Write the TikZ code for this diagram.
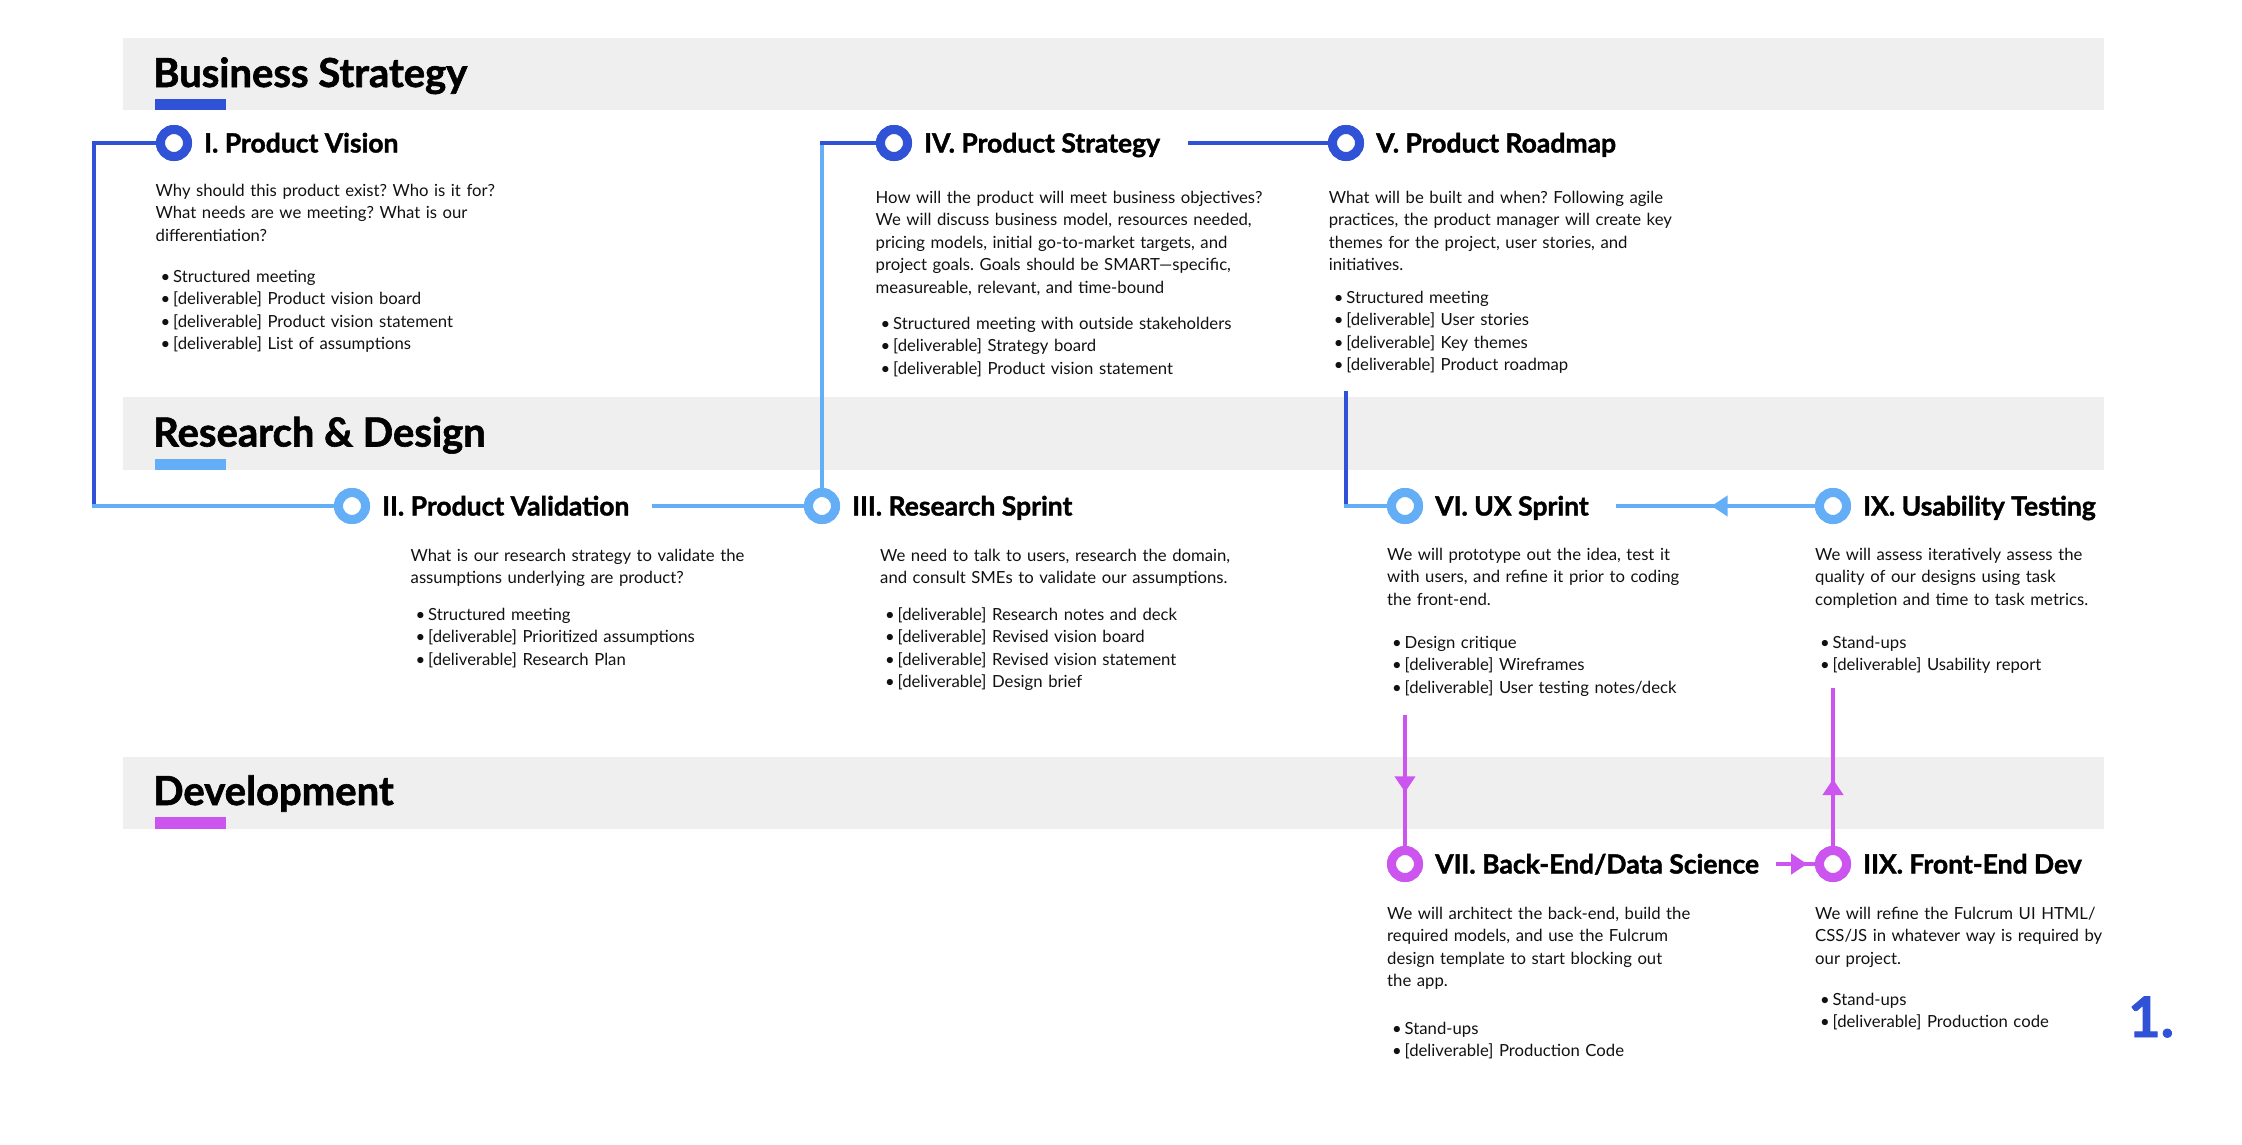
\documentclass[tikz,border=0pt]{standalone}
\usepackage{fontspec}
\setmainfont{Lato}
\newfontfamily\headfont{Lato}[BoldFeatures={FakeBold=1.5}]
\usetikzlibrary{arrows.meta,decorations.markings}
\definecolor{dblue}{HTML}{3052D6}
\definecolor{lblue}{HTML}{63AEF6}
\definecolor{mag}{HTML}{CC55F0}
\definecolor{bandgray}{HTML}{EFEFEF}
\definecolor{txt}{HTML}{111111}
\newcommand\bul[1]{\makebox[17.5pt][l]{\hspace{5pt}•}#1}
\frenchspacing
\begin{document}
\begin{tikzpicture}[x=1pt,y=-1pt,
  ring/.style={circle,draw=#1,line width=9pt,fill=white,minimum size=27pt,inner sep=0pt,outer sep=4.5pt},
  ttl/.style={anchor=base west,inner sep=0pt,font=\fontsize{26.5}{30}\headfont\bfseries,text=black},
  sect/.style={anchor=base west,inner sep=0pt,font=\fontsize{40}{44}\headfont\bfseries,text=black},
  body/.style={anchor=base west,inner sep=0pt,text width=600pt,align=left,font=\fontsize{16.7}{22.6}\selectfont\frenchspacing,text=txt},
  conn/.style={line width=4pt},
  cornerconn/.style={line width=4pt,line cap=rect},
  midarrow/.style={postaction={decorate},decoration={markings,mark=at position #1 with {\arrow{Triangle[length=16pt,width=20pt]}}}}
]
\useasboundingbox (0,0) rectangle (2242,1144);
% bands
\fill[bandgray] (123,38) rectangle (2104,110);
\fill[bandgray] (123,397) rectangle (2104,470);
\fill[bandgray] (123,757) rectangle (2104,829);
\fill[dblue] (155,99) rectangle (226,110);
\fill[lblue] (155,459) rectangle (226,470);
\fill[mag] (155,817) rectangle (226,829);
\node[sect] (bs) at (153,87) {Business Strategy};
\node[sect] (rd) at (153,446.5) {Research \& Design};
\node[sect] (dev) at (153,805) {Development};

% coordinates
\coordinate (c1) at (94,143);
\coordinate (c2) at (94,506);
\coordinate (c3) at (822,143);
\coordinate (s2) at (652,506);
\coordinate (s4) at (1188,143);
\coordinate (s5) at (1346,393);
\coordinate (c5) at (1346,506);
\coordinate (e6) at (1616,506);
\coordinate (s7) at (1405,715);
\coordinate (s8) at (1776,864);
\coordinate (e9) at (1833,688);

% rings (placed first so connectors can use them; drawn again on top)
\path (174,143) node[ring=dblue] (pv) {};
\path (352,506) node[ring=lblue] (pval) {};
\path (822,506) node[ring=lblue] (rs) {};
\path (894,143) node[ring=dblue] (ps) {};
\path (1346,143) node[ring=dblue] (pr) {};
\path (1405,506) node[ring=lblue] (ux) {};
\path (1833,506) node[ring=lblue] (ut) {};
\path (1405,864) node[ring=mag] (be) {};
\path (1833,864) node[ring=mag] (fe) {};

% connectors
\draw[cornerconn,dblue] (pv) -- (c1) -- (c2);
\draw[cornerconn,lblue] (c2) -- (pval);
\draw[conn,lblue] (s2) -- (rs);
\draw[cornerconn,lblue] (rs) -- (c3);
\draw[cornerconn,dblue] (c3) -- (ps);
\draw[conn,dblue] (s4) -- (pr);
\draw[cornerconn,dblue] (s5) -- (c5);
\draw[cornerconn,lblue] (c5) -- (ux);
\draw[conn,lblue,midarrow=0.52] (ut) -- (e6);
\draw[conn,mag,midarrow=0.59] (s7) -- (be);
\draw[conn,mag,midarrow=0.8] (s8) -- (fe);
\draw[conn,mag,midarrow=0.424] (fe) -- (e9);

% rings on top
\node[ring=dblue] (pv2) at (pv) {};
\node[ring=lblue] (pval2) at (pval) {};
\node[ring=lblue] (rs2) at (rs) {};
\node[ring=dblue] (ps2) at (ps) {};
\node[ring=dblue] (pr2) at (pr) {};
\node[ring=lblue] (ux2) at (ux) {};
\node[ring=lblue] (ut2) at (ut) {};
\node[ring=mag] (be2) at (be) {};
\node[ring=mag] (fe2) at (fe) {};

% titles
\node[ttl] (tpv) at (204,152.5) {I. Product Vision};
\node[ttl] (tpval) at (382,515.5) {II. Product Validation};
\node[ttl] (trs) at (852,515.5) {III. Research Sprint};
\node[ttl] (tps) at (924,152.5) {IV. Product Strategy};
\node[ttl] (tpr) at (1376,152.5) {V. Product Roadmap};
\node[ttl] (tux) at (1435,515.5) {VI. UX Sprint};
\node[ttl] (tut) at (1863,515.5) {IX. Usability Testing};
\node[ttl] (tbe) at (1435,873.5) {VII. Back-End/Data Science};
\node[ttl] (tfe) at (1863,873.5) {IIX. Front-End Dev};

% bodies
\node[body] (bpv) at (155.5,196) {Why should this product exist? Who is it for?\\What needs are we meeting? What is our\\differentiation?};
\node[body] (lpv) at (155.5,282) {\bul{Structured meeting}\\\bul{[deliverable] Product vision board}\\\bul{[deliverable] Product vision statement}\\\bul{[deliverable] List of assumptions}};

\node[body] (bpval) at (410.5,561) {What is our research strategy to validate the\\assumptions underlying are product?};
\node[body] (lpval) at (410.5,620) {\bul{Structured meeting}\\\bul{[deliverable] Prioritized assumptions}\\\bul{[deliverable] Research Plan}};

\node[body] (brs) at (880,561) {We need to talk to users, research the domain,\\and consult SMEs to validate our assumptions.};
\node[body] (lrs) at (880,620) {\bul{[deliverable] Research notes and deck}\\\bul{[deliverable] Revised vision board}\\\bul{[deliverable] Revised vision statement}\\\bul{[deliverable] Design brief}};

\node[body] (bps) at (875.5,203) {How will the product will meet business objectives?\\We will discuss business model, resources needed,\\pricing models, initial go-to-market targets, and\\project goals. Goals should be SMART—specific,\\measureable, relevant, and time-bound};
\node[body] (lps) at (875.5,329) {\bul{Structured meeting with outside stakeholders}\\\bul{[deliverable] Strategy board}\\\bul{[deliverable] Product vision statement}};

\node[body] (bpr) at (1328.6,203) {What will be built and when? Following agile\\practices, the product manager will create key\\themes for the project, user stories, and\\initiatives.};
\node[body] (lpr) at (1328.6,303) {\bul{Structured meeting}\\\bul{[deliverable] User stories}\\\bul{[deliverable] Key themes}\\\bul{[deliverable] Product roadmap}};

\node[body] (bux) at (1387,560) {We will prototype out the idea, test it\\with users, and refine it prior to coding\\the front-end.};
\node[body] (lux) at (1387,648) {\bul{Design critique}\\\bul{[deliverable] Wireframes}\\\bul{[deliverable] User testing notes/deck}};

\node[body] (but) at (1815,560) {We will assess iteratively assess the\\quality of our designs using task\\completion and time to task metrics.};
\node[body] (lut) at (1815,648) {\bul{Stand-ups}\\\bul{[deliverable] Usability report}};

\node[body] (bbe) at (1387,919) {We will architect the back-end, build the\\required models, and use the Fulcrum\\design template to start blocking out\\the app.};
\node[body] (lbe) at (1387,1034) {\bul{Stand-ups}\\\bul{[deliverable] Production Code}};

\node[body] (bfe) at (1815,919) {We will refine the Fulcrum UI HTML/\\CSS/JS in whatever way is required by\\our project.};
\node[body] (lfe) at (1815,1005) {\bul{Stand-ups}\\\bul{[deliverable] Production code}};

\node[anchor=base west,inner sep=0pt,font=\fontsize{56}{60}\headfont\bfseries,text=dblue] (num) at (2128,1037) {1.};
\end{tikzpicture}
\end{document}
